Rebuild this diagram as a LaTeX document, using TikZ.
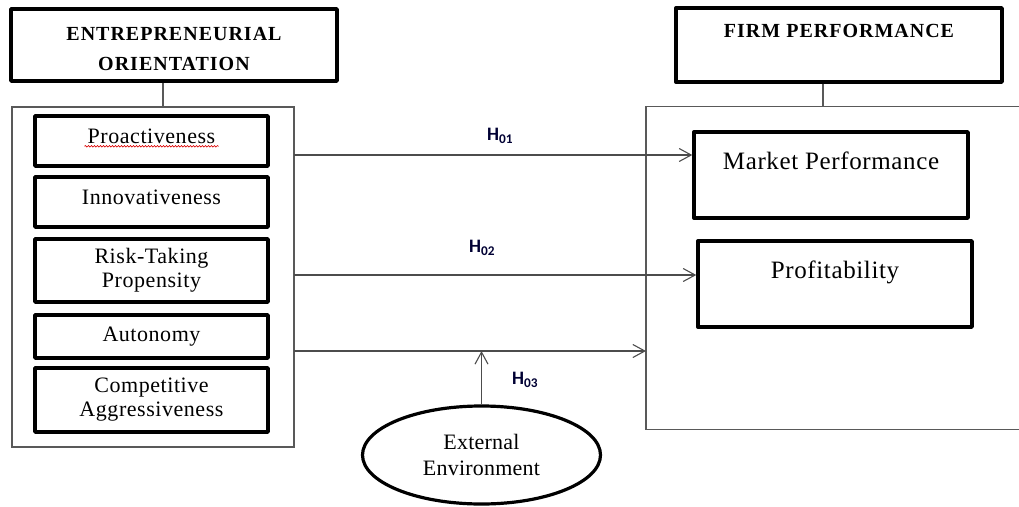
\documentclass[tikz,border=0pt]{standalone}
\usepackage{fontspec}
\setmainfont{Liberation Serif}
\newfontfamily\hypfont{Carlito}
\usetikzlibrary{arrows.meta}
\usetikzlibrary{shapes.geometric}
\usetikzlibrary{decorations.pathmorphing}

\tikzset{
  headbox/.style={draw=black,line width=3.4pt,line join=round,minimum width=326pt,minimum height=72pt,align=center,
    font=\fontsize{20}{30}\selectfont\bfseries\addfontfeatures{LetterSpace=5}},
  dimbox/.style={draw=black,line width=3.4pt,line join=round,minimum width=233pt,align=center,
    font=\fontsize{22}{24}\selectfont\addfontfeatures{LetterSpace=2.5}},
  perfbox/.style={draw=black,line width=3.4pt,line join=round,minimum width=274pt,align=center,
    text height=17pt,text depth=29pt,inner ysep=20pt,
    font=\fontsize{25}{28}\selectfont\addfontfeatures{LetterSpace=2.5}},
  frame/.style={draw=black!65,line width=1.3pt},
  link/.style={draw=black!70,line width=1.3pt,-{Straight Barb[length=12pt,width=13pt,line width=1.1pt]}},
  hyp/.style={font=\fontsize{19}{20}\selectfont\hypfont\bfseries,text=black!80!blue},
  spell/.style={draw=red!85!black,line width=0.6pt,decorate,decoration={snake,amplitude=0.8pt,segment length=3pt}}
}

\begin{document}
\begin{tikzpicture}[x=1pt,y=1pt,yscale=-1,xscale=1]
\useasboundingbox (0,0) rectangle (1019,506);

% header boxes
\node[headbox] (eoh) at (174,45) {\rule{0pt}{22pt}ENTREPRENEURIAL\\ORIENTATION};
\node[headbox,text height=14pt,text depth=30pt,inner ysep=15pt,minimum height=0pt] (fph) at (839,45) {FIRM PERFORMANCE};

% outer frames
\node[frame,minimum width=282pt,minimum height=340pt] (eo) at (153,277) {};
\node[minimum width=373pt,minimum height=322pt,anchor=west] (fo) at (646,268) {};
\draw[frame] (fo.north east) -- (fo.north west) -- (fo.south west) -- (fo.south east);

% header to frame
\draw[frame] ([xshift=-11pt]eoh.south) -- ([xshift=-11pt]eoh.south |- eo.north);
\draw[frame] ([xshift=-16pt]fph.south) -- ([xshift=-16pt]fph.south |- fo.north);

% dimensions of EO
\node[dimbox,minimum height=50pt,text depth=9pt] (pro) at (151.5,141) {Proactiveness};
\node[dimbox,minimum height=50pt,text depth=9pt] (inn) at (151.5,202) {Innovativeness};
\node[dimbox,minimum height=63pt] (risk) at (151.5,270.5) {Risk-Taking\\Propensity};
\node[dimbox,minimum height=43pt] (aut) at (151.5,336.5) {Autonomy};
\node[dimbox,minimum height=64pt] (comp) at (151.5,400) {Competitive\\Aggressiveness};
\draw[spell] ([xshift=-67pt,yshift=2.5pt]pro.base) -- ([xshift=67pt,yshift=2.5pt]pro.base);

% performance measures
\node[perfbox] (mp) at (831,175) {Market Performance};
\node[perfbox] (pf) at (835,284) {Profitability};

% moderator
\node[draw=black,line width=3.2pt,ellipse,minimum width=238pt,minimum height=98pt,align=center,
  font=\fontsize{22}{26}\selectfont\addfontfeatures{LetterSpace=1}] (env) at (481.5,455) {External\\Environment};

% hypotheses
\coordinate (a1) at (294,155);
\coordinate (a2) at (294,275);
\coordinate (a3) at (294,351);
\draw[link] (a1) -- (a1 -| mp.west);
\draw[link] (a2) -- (a2 -| pf.west);
\draw[link] (a3) -- (a3 -| fo.west);
\draw[link] (env.north) -- (env.north |- a3);

% Text Node
\node[hyp] (h01) at (500,136) {H\textsubscript{01}};
\node[hyp] (h02) at (482,248) {H\textsubscript{02}};
\node[hyp] (h03) at (525,380) {H\textsubscript{03}};

\end{tikzpicture}
\end{document}
